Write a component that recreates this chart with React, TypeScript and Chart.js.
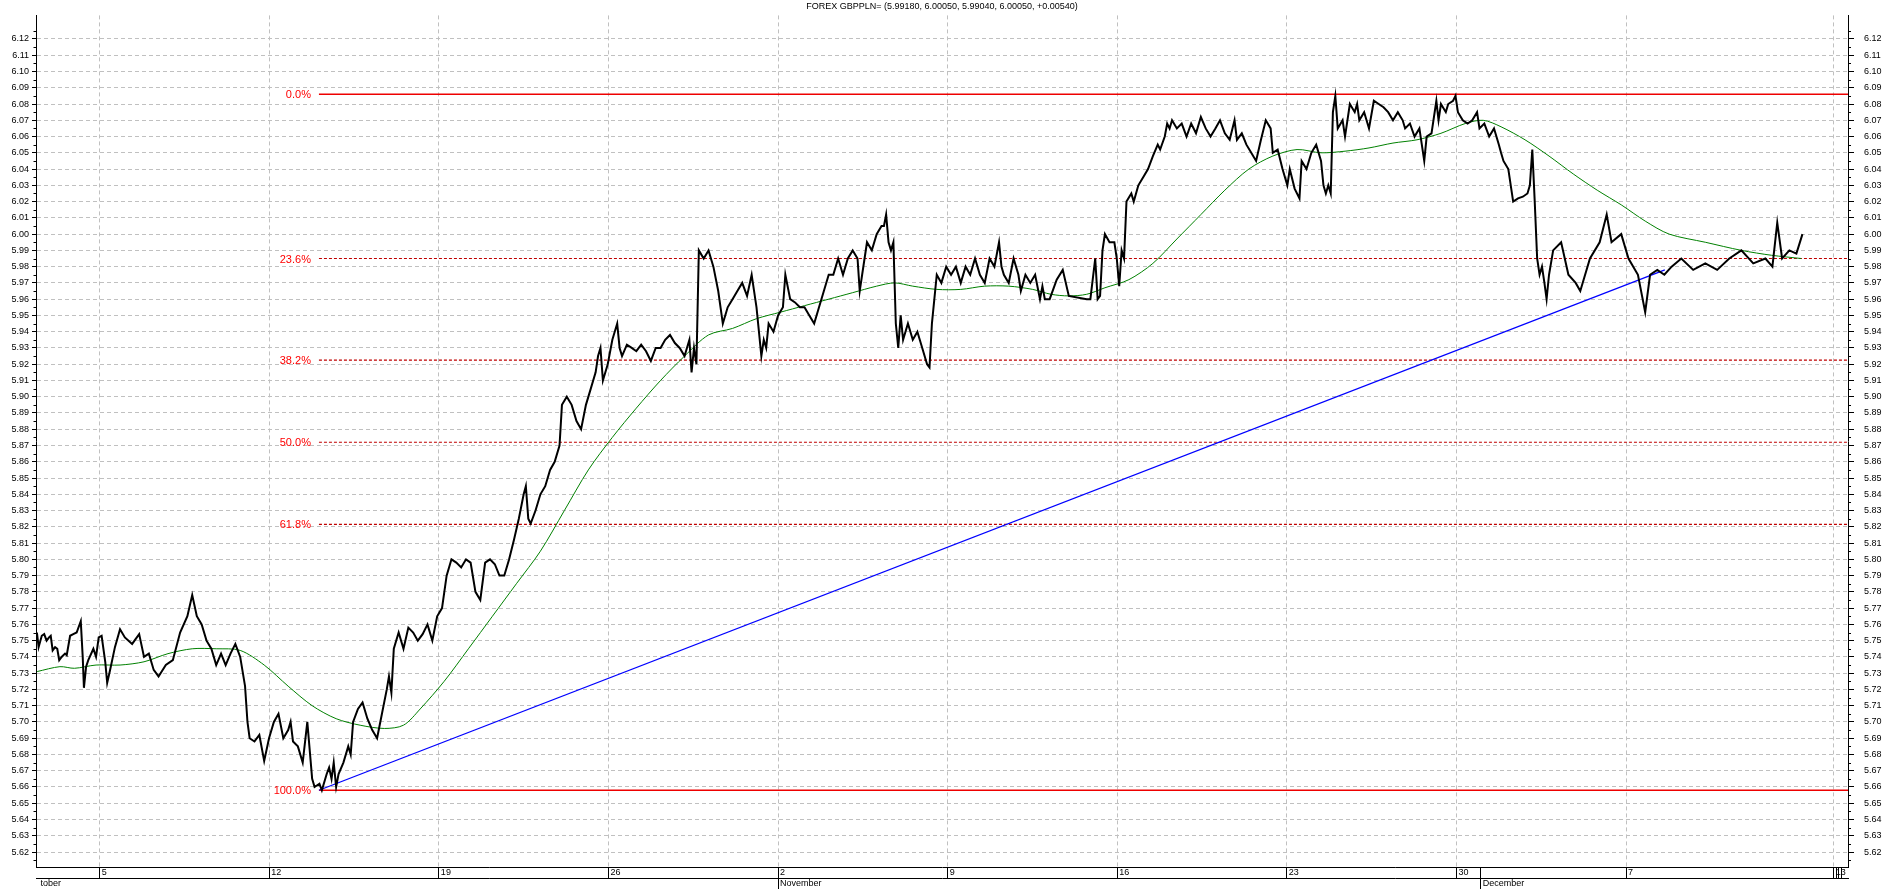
import React, { useEffect, useRef } from 'react';
import { Chart, registerables } from 'chart.js';
Chart.register(...registerables);

const TITLE = 'FOREX GBPPLN= (5.99180, 6.00050, 5.99040, 6.00050, +0.00540)';
const FONT = '"Liberation Sans", Arial, sans-serif';

// axis ranges (days since 1 Oct 2020 / price)
const X_MIN = 1.372;
const X_MAX = 76.16;
const Y_MIN = 5.6108;
const Y_MAX = 6.1345;

const weekTickDays = [4, 11, 18, 25, 32, 39, 46, 53, 60, 61, 67, 75.57, 75.68, 75.78, 75.88];
const weekTickLabels = ['5', '12', '19', '26', '2', '9', '16', '23', '30', '', '7', '13', '', '', ''];
const weekTickGrid = [true, true, true, true, true, true, true, true, true, false, true, true, false, false, false];
const monthTickDays = [1.0, 32, 61];
const monthTickLabels = ['October', 'November', 'December'];

const priceDays = [
  1.41, 1.48, 1.61, 1.71, 1.81, 1.91, 1.98, 2.06, 2.16, 2.25, 2.33, 2.43, 2.57, 2.64, 2.78, 2.91, 3.05, 3.22, 3.30, 3.35,
  3.44, 3.53, 3.74, 3.85, 3.96, 4.08, 4.23, 4.31, 4.43, 4.63, 4.84, 5.04, 5.34, 5.63, 5.83, 6.03, 6.23, 6.43, 6.73, 7.02,
  7.32, 7.62, 7.82, 8.01, 8.21, 8.41, 8.61, 8.81, 9.01, 9.20, 9.40, 9.60, 9.80, 10.00, 10.10, 10.19, 10.39, 10.59, 10.79, 10.99,
  11.19, 11.38, 11.58, 11.78, 11.88, 11.98, 12.18, 12.38, 12.57, 12.77, 12.87, 13.07, 13.17, 13.37, 13.47, 13.57, 13.66, 13.76, 13.86, 14.06,
  14.26, 14.36, 14.46, 14.66, 14.85, 15.05, 15.25, 15.45, 15.65, 15.85, 15.94, 16.04, 16.14, 16.34, 16.54, 16.74, 16.94, 17.13, 17.33, 17.53,
  17.73, 17.93, 18.13, 18.32, 18.52, 18.72, 18.92, 19.12, 19.31, 19.51, 19.71, 19.91, 20.11, 20.31, 20.50, 20.70, 20.90, 21.10, 21.30, 21.50,
  21.59, 21.69, 21.79, 21.99, 22.19, 22.39, 22.59, 22.78, 22.98, 23.08, 23.28, 23.48, 23.68, 23.87, 24.07, 24.27, 24.47, 24.57, 24.67, 24.77,
  24.97, 25.16, 25.36, 25.46, 25.56, 25.76, 25.96, 26.15, 26.35, 26.55, 26.75, 26.95, 27.15, 27.34, 27.54, 27.74, 27.94, 28.14, 28.34, 28.43,
  28.53, 28.63, 28.73, 28.93, 29.13, 29.33, 29.53, 29.72, 29.92, 30.12, 30.32, 30.52, 30.72, 30.91, 31.01, 31.11, 31.21, 31.31, 31.41, 31.51,
  31.61, 31.81, 32.00, 32.20, 32.30, 32.50, 32.70, 32.90, 33.09, 33.29, 33.49, 33.69, 33.89, 34.09, 34.28, 34.48, 34.68, 34.88, 35.08, 35.28,
  35.37, 35.47, 35.67, 35.87, 36.07, 36.27, 36.37, 36.46, 36.56, 36.66, 36.76, 36.86, 36.96, 37.06, 37.16, 37.36, 37.56, 37.75, 37.95, 38.15,
  38.25, 38.35, 38.55, 38.74, 38.94, 39.14, 39.34, 39.54, 39.74, 39.93, 40.13, 40.33, 40.53, 40.73, 40.93, 41.12, 41.22, 41.32, 41.52, 41.72,
  41.92, 42.02, 42.21, 42.41, 42.61, 42.81, 42.91, 43.01, 43.21, 43.50, 43.75, 44.00, 44.74, 44.89, 45.09, 45.19, 45.29, 45.39, 45.49, 45.68,
  45.88, 45.98, 46.08, 46.18, 46.28, 46.38, 46.58, 46.68, 46.87, 47.07, 47.27, 47.47, 47.67, 47.77, 47.96, 48.06, 48.16, 48.26, 48.46, 48.66,
  48.86, 49.05, 49.25, 49.45, 49.65, 49.85, 50.05, 50.24, 50.44, 50.64, 50.84, 50.94, 51.14, 51.33, 51.53, 51.73, 51.93, 52.13, 52.33, 52.42,
  52.62, 52.82, 53.02, 53.12, 53.32, 53.52, 53.61, 53.81, 54.01, 54.21, 54.41, 54.51, 54.61, 54.71, 54.81, 54.90, 55.00, 55.10, 55.30, 55.40,
  55.60, 55.80, 55.90, 55.99, 56.19, 56.39, 56.59, 56.79, 56.99, 57.18, 57.38, 57.58, 57.78, 57.88, 58.08, 58.27, 58.47, 58.57, 58.67, 58.77,
  58.97, 59.17, 59.26, 59.36, 59.56, 59.66, 59.86, 59.96, 60.06, 60.26, 60.46, 60.65, 60.85, 60.95, 61.15, 61.35, 61.55, 61.75, 61.84, 61.94,
  62.14, 62.24, 62.34, 62.54, 62.74, 62.93, 63.03, 63.13, 63.23, 63.33, 63.43, 63.53, 63.63, 63.72, 63.82, 63.99, 64.32, 64.62, 64.92, 65.11,
  65.51, 65.91, 66.20, 66.40, 66.80, 67.10, 67.49, 67.79, 67.99, 68.29, 68.58, 68.88, 69.28, 69.77, 70.27, 70.76, 71.26, 71.76, 72.25, 72.75,
  73.04, 73.24, 73.44, 73.74, 74.03, 74.28,
];
const priceValues = [
  5.755, 5.746, 5.753, 5.754, 5.750, 5.752, 5.753, 5.744, 5.746, 5.745, 5.738, 5.740, 5.742, 5.741, 5.753, 5.754, 5.755, 5.762, 5.740, 5.721,
  5.734, 5.738, 5.745, 5.740, 5.752, 5.753, 5.737, 5.724, 5.732, 5.746, 5.757, 5.752, 5.748, 5.754, 5.740, 5.742, 5.732, 5.728, 5.735, 5.738,
  5.755, 5.765, 5.778, 5.765, 5.760, 5.750, 5.745, 5.735, 5.742, 5.735, 5.742, 5.748, 5.740, 5.722, 5.700, 5.690, 5.688, 5.692, 5.676, 5.690,
  5.700, 5.705, 5.690, 5.695, 5.700, 5.688, 5.685, 5.675, 5.700, 5.665, 5.660, 5.662, 5.658, 5.668, 5.672, 5.665, 5.675, 5.660, 5.668, 5.675,
  5.685, 5.680, 5.700, 5.708, 5.712, 5.702, 5.695, 5.690, 5.705, 5.720, 5.728, 5.718, 5.745, 5.755, 5.745, 5.758, 5.755, 5.750, 5.754, 5.760,
  5.750, 5.765, 5.770, 5.790, 5.800, 5.798, 5.795, 5.800, 5.798, 5.780, 5.775, 5.798, 5.800, 5.797, 5.790, 5.790, 5.800, 5.812, 5.825, 5.840,
  5.845, 5.825, 5.822, 5.830, 5.840, 5.845, 5.855, 5.860, 5.870, 5.895, 5.900, 5.895, 5.885, 5.880, 5.895, 5.905, 5.915, 5.925, 5.930, 5.910,
  5.920, 5.935, 5.945, 5.930, 5.925, 5.932, 5.930, 5.928, 5.932, 5.928, 5.922, 5.930, 5.930, 5.935, 5.938, 5.933, 5.930, 5.925, 5.935, 5.915,
  5.930, 5.920, 5.990, 5.985, 5.990, 5.980, 5.965, 5.945, 5.955, 5.960, 5.965, 5.970, 5.962, 5.975, 5.965, 5.955, 5.940, 5.925, 5.935, 5.930,
  5.945, 5.940, 5.950, 5.955, 5.975, 5.960, 5.958, 5.955, 5.955, 5.950, 5.945, 5.955, 5.965, 5.975, 5.975, 5.985, 5.975, 5.985, 5.990, 5.985,
  5.965, 5.975, 5.995, 5.990, 6.000, 6.005, 6.005, 6.012, 5.995, 5.990, 5.995, 5.945, 5.930, 5.950, 5.935, 5.945, 5.935, 5.940, 5.930, 5.920,
  5.918, 5.945, 5.975, 5.970, 5.980, 5.975, 5.980, 5.970, 5.980, 5.975, 5.985, 5.975, 5.970, 5.985, 5.980, 5.995, 5.980, 5.975, 5.970, 5.985,
  5.975, 5.965, 5.975, 5.970, 5.975, 5.960, 5.968, 5.960, 5.960, 5.972, 5.978, 5.962, 5.960, 5.960, 5.985, 5.960, 5.962, 5.990, 6.000, 5.995,
  5.995, 5.985, 5.968, 5.990, 5.985, 6.020, 6.025, 6.020, 6.030, 6.035, 6.040, 6.048, 6.055, 6.052, 6.060, 6.068, 6.065, 6.070, 6.065, 6.068,
  6.060, 6.068, 6.062, 6.072, 6.065, 6.060, 6.065, 6.070, 6.062, 6.058, 6.070, 6.058, 6.062, 6.055, 6.050, 6.045, 6.058, 6.070, 6.065, 6.050,
  6.052, 6.040, 6.030, 6.040, 6.028, 6.022, 6.045, 6.040, 6.050, 6.055, 6.045, 6.030, 6.025, 6.030, 6.025, 6.075, 6.085, 6.065, 6.070, 6.060,
  6.080, 6.075, 6.080, 6.070, 6.075, 6.065, 6.082, 6.080, 6.078, 6.075, 6.070, 6.075, 6.070, 6.065, 6.068, 6.060, 6.065, 6.055, 6.045, 6.060,
  6.062, 6.082, 6.070, 6.080, 6.075, 6.080, 6.082, 6.085, 6.075, 6.070, 6.068, 6.070, 6.075, 6.065, 6.068, 6.060, 6.065, 6.055, 6.050, 6.045,
  6.040, 6.030, 6.020, 6.022, 6.023, 6.025, 6.030, 6.052, 6.020, 5.985, 5.975, 5.980, 5.970, 5.960, 5.975, 5.990, 5.995, 5.975, 5.970, 5.965,
  5.985, 5.995, 6.012, 5.995, 6.000, 5.985, 5.975, 5.952, 5.975, 5.978, 5.975, 5.980, 5.985, 5.978, 5.982, 5.978, 5.985, 5.990, 5.982, 5.985,
  5.980, 6.007, 5.985, 5.990, 5.988, 6.000,
];

const maDays = [
  1.42, 2.36, 2.96, 3.85, 4.84, 5.83, 6.82, 7.82, 8.81, 9.80, 10.79, 11.78, 12.77, 13.76, 14.75, 15.75, 16.54, 17.23, 18.22, 19.22,
  20.21, 21.20, 22.19, 23.18, 24.17, 25.16, 26.15, 27.15, 28.14, 29.13, 30.12, 31.11, 32.10, 33.09, 34.09, 35.08, 36.07, 36.81, 37.56, 38.55,
  39.54, 40.53, 41.52, 42.51, 43.26, 44.00, 44.74, 45.49, 46.48, 47.47, 48.46, 49.45, 50.44, 51.43, 52.42, 53.42, 54.41, 55.40, 56.39, 57.38,
  58.37, 59.36, 60.36, 61.10, 61.84, 62.83, 63.82, 64.82, 65.81, 66.80, 67.79, 68.78, 70.27, 71.76, 73.00, 74.23,
];
const maValues = [
  5.731, 5.734, 5.733, 5.735, 5.735, 5.737, 5.742, 5.745, 5.745, 5.744, 5.735, 5.722, 5.710, 5.702, 5.698, 5.696, 5.698, 5.708, 5.725, 5.745,
  5.765, 5.785, 5.805, 5.830, 5.855, 5.875, 5.893, 5.910, 5.925, 5.938, 5.942, 5.948, 5.952, 5.956, 5.960, 5.964, 5.968, 5.970, 5.968, 5.966,
  5.966, 5.968, 5.968, 5.966, 5.963, 5.962, 5.963, 5.967, 5.972, 5.982, 5.997, 6.012, 6.027, 6.040, 6.048, 6.052, 6.050, 6.051, 6.053, 6.056,
  6.058, 6.062, 6.068, 6.070, 6.066, 6.058, 6.048, 6.037, 6.027, 6.018, 6.008, 6.000, 5.995, 5.990, 5.987, 5.985,
];

const trendDays = [13.05, 68.6];
const trendValues = [5.658, 5.978];

const fibHigh = 6.086;
const fibLow = 5.658;
const fibStartDay = 13.05;
const fibRatios = [0, 0.236, 0.382, 0.5, 0.618, 1];
const fibLabels = ['0.0%', '23.6%', '38.2%', '50.0%', '61.8%', '100.0%'];

const GRID = '#c0c0c0';

function pts(xs: number[], ys: number[]) {
  return xs.map((x, i) => ({ x, y: ys[i] }));
}

const fibLevel = (r: number) => fibHigh - r * (fibHigh - fibLow);
const isMajor = (v: number) => Math.round(v * 1000) % 10 === 0;

const overlay = {
  id: 'overlay',
  afterDraw(chart: any) {
    const { ctx, chartArea, scales } = chart;
    ctx.save();
    // minor (half-step) tick marks, shorter than the labelled ones
    ctx.strokeStyle = '#000000';
    ctx.lineWidth = 1;
    ctx.beginPath();
    scales.y.ticks.forEach((t: any) => {
      if (isMajor(t.value)) return;
      const py = Math.round(scales.y.getPixelForValue(t.value)) + 0.5;
      ctx.moveTo(chartArea.left - 2.5, py);
      ctx.lineTo(chartArea.left, py);
      ctx.moveTo(chartArea.right, py);
      ctx.lineTo(chartArea.right + 3, py);
    });
    ctx.stroke();
    // clip month row at the left edge
    ctx.fillStyle = '#ffffff';
    ctx.fillRect(0, scales.x2.top + 1, chartArea.left + 4.5, scales.x2.height + 2);
    // title
    ctx.font = `9px ${FONT}`;
    ctx.fillStyle = '#000000';
    ctx.textAlign = 'center';
    ctx.textBaseline = 'middle';
    ctx.fillText(TITLE, (chartArea.left + chartArea.right) / 2, 7);
    // fib labels
    ctx.font = `11px ${FONT}`;
    ctx.fillStyle = '#ff0000';
    ctx.textAlign = 'right';
    const x0 = scales.x.getPixelForValue(fibStartDay) - 8;
    fibRatios.forEach((r, i) => {
      ctx.fillText(fibLabels[i], x0, scales.y.getPixelForValue(fibLevel(r)) + 1);
    });
    ctx.restore();
  },
};

function yTicks(scale: any) {
  const t: any[] = [];
  for (let k = 5615; k <= 6125; k += 5) t.push({ value: k / 1000 });
  scale.ticks = t;
}
const yLabel = (v: any) => (isMajor(Number(v)) ? Number(v).toFixed(2) : '');
const yTickColor = (c: any) => (c.tick && isMajor(c.tick.value) ? '#000000' : 'rgba(0,0,0,0)');

export default function App() {
  const ref = useRef<HTMLCanvasElement>(null);
  useEffect(() => {
    if (!ref.current) return;
    Chart.defaults.font.family = FONT;
    const fibSets = fibRatios.map((r, i) => ({
      label: fibLabels[i],
      data: [{ x: fibStartDay, y: fibLevel(r) }, { x: X_MAX, y: fibLevel(r) }],
      borderColor: r === 0 || r === 1 ? '#ee0000' : '#c00000',
      borderWidth: r === 0 || r === 1 ? 1.5 : 1.2,
      borderDash: r === 0 || r === 1 ? [] : [3, 2],
      pointRadius: 0,
      order: 4,
    }));
    const chart = new Chart(ref.current, {
      type: 'line',
      data: {
        datasets: [
          {
            label: 'GBPPLN',
            data: pts(priceDays, priceValues),
            borderColor: '#000000',
            borderWidth: 2,
            pointRadius: 0,
            tension: 0,
            order: 0,
          },
          {
            label: 'MA',
            data: pts(maDays, maValues),
            borderColor: '#008000',
            borderWidth: 1,
            pointRadius: 0,
            tension: 0.3,
            order: 1,
          },
          {
            label: 'Trend',
            data: pts(trendDays, trendValues),
            borderColor: '#0000ff',
            borderWidth: 1.3,
            pointRadius: 0,
            order: 2,
          },
          ...fibSets,
        ],
      },
      options: {
        animation: false,
        responsive: false,
        devicePixelRatio: 1,
        parsing: false as any,
        layout: { padding: 0 },
        plugins: { legend: { display: false }, tooltip: { enabled: false }, title: { display: false } },
        scales: {
          x: {
            type: 'linear',
            position: 'bottom',
            weight: 0,
            min: X_MIN,
            max: X_MAX,
            afterBuildTicks: (s: any) => {
              s.ticks = weekTickDays.map((v) => ({ value: v }));
            },
            afterFit: (s: any) => {
              s.height = 11;
            },
            ticks: {
              autoSkip: false,
              maxRotation: 0,
              minRotation: 0,
              align: 'start',
              labelOffset: 2,
              padding: -11,
              color: '#000000',
              font: { size: 9, family: FONT },
              callback: (_v: any, i: number) => weekTickLabels[i],
            },
            grid: {
              color: (c: any) => (weekTickGrid[c.index] ? GRID : 'rgba(0,0,0,0)'),
              tickColor: '#000000',
              tickLength: 11,
              lineWidth: 1,
            },
            border: { display: true, color: '#000000', width: 1, dash: [4, 3] },
          },
          x2: {
            type: 'linear',
            position: 'bottom',
            weight: 1,
            min: X_MIN,
            max: X_MAX,
            afterBuildTicks: (s: any) => {
              s.ticks = monthTickDays.map((v) => ({ value: v }));
            },
            afterFit: (s: any) => {
              s.height = 11;
            },
            ticks: {
              autoSkip: false,
              maxRotation: 0,
              minRotation: 0,
              align: 'start',
              labelOffset: 2,
              padding: -11,
              color: '#000000',
              font: { size: 9, family: FONT },
              callback: (_v: any, i: number) => monthTickLabels[i],
            },
            grid: { drawOnChartArea: false, tickColor: '#000000', tickLength: 11 },
            border: { display: true, color: '#000000', width: 1 },
          },
          y: {
            type: 'linear',
            position: 'left',
            min: Y_MIN,
            max: Y_MAX,
            afterBuildTicks: yTicks,
            afterFit: (s: any) => {
              s.width = 36;
            },
            ticks: { autoSkip: false, padding: 3, color: '#000000', font: { size: 9, family: FONT }, callback: yLabel },
            grid: {
              color: (c: any) => (c.tick && isMajor(c.tick.value) ? GRID : 'rgba(0,0,0,0)'),
              tickColor: yTickColor,
              tickLength: 4,
            },
            border: { display: true, color: '#000000', width: 1, dash: [4, 3] },
          },
          yR: {
            type: 'linear',
            position: 'right',
            min: Y_MIN,
            max: Y_MAX,
            afterBuildTicks: yTicks,
            afterFit: (s: any) => {
              s.width = 35;
            },
            ticks: { autoSkip: false, padding: 10, color: '#000000', font: { size: 9, family: FONT }, callback: yLabel },
            grid: { drawOnChartArea: false, tickColor: yTickColor, tickLength: 6 },
            border: { display: true, color: '#000000', width: 1 },
          },
        },
      } as any,
      plugins: [overlay],
    });
    return () => chart.destroy();
  }, []);
  return (
    <div style={{ position: 'absolute', left: 0, top: 0, width: 1883, height: 889, background: '#fff' }}>
      <canvas ref={ref} width={1883} height={889} style={{ display: 'block' }} />
    </div>
  );
}
